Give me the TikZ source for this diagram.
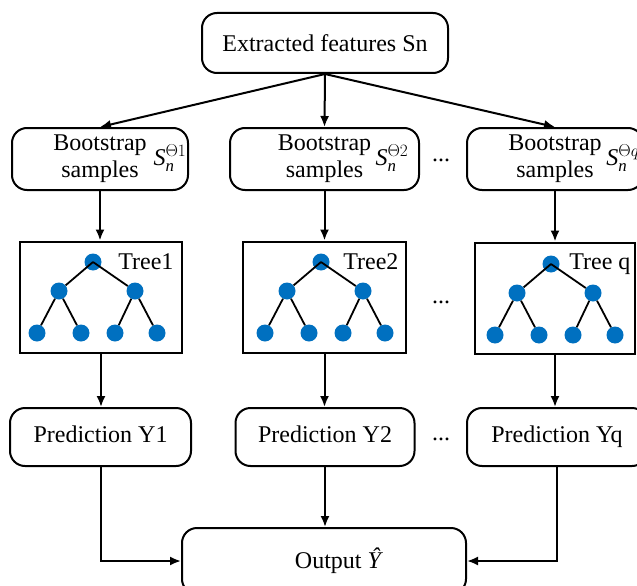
\documentclass[tikz,border=0pt]{standalone}
\usepackage{amsmath}
\usepackage{fontspec}
\setmainfont{Liberation Serif}
\usetikzlibrary{arrows.meta}
\definecolor{treeblue}{RGB}{0,112,192}
\tikzset{
  rbox/.style={draw,line width=2pt,rounded corners=15pt,inner sep=0pt,align=center},
  pbox/.style={rbox,text height=16pt,text depth=5pt,minimum height=58pt},
  tbox/.style={draw,line width=2pt,inner sep=0pt,minimum height=111pt},
  leaf/.style={circle,fill=treeblue,inner sep=0pt,minimum size=17pt},
  branch/.style={line width=1.8pt},
  arr/.style={-{Latex[length=11pt,width=9pt]},line width=2pt}
}
\begin{document}
\begin{tikzpicture}[x=1pt,y=-1pt,font=\fontsize{24}{27}\selectfont]
\useasboundingbox (0,0) rectangle (637,586);

% top
\node[rbox,minimum width=246pt,minimum height=60pt] (feat) at (325,43) {Extracted features Sn};

% bootstrap samples
\node[rbox,minimum width=176pt,minimum height=62pt] (boot1) at (100,159) {Bootstrap\\samples};
\node[rbox,minimum width=189pt,minimum height=62pt] (boot2) at (324.5,159) {Bootstrap\\samples};
\node[rbox,minimum width=176pt,minimum height=62pt] (boot3) at (555,159) {Bootstrap\\samples};
\node (s1) at (170,158) {$\textit{S}_{\textit{n}}^{\Theta1}$};
\node (s2) at (392,158) {$\textit{S}_{\textit{n}}^{\Theta2}$};
\node (s3) at (623,158) {$\textit{S}_{\textit{n}}^{\Theta q}$};
\node (dots1) at (441,160) {...};

% trees
\node[tbox,minimum width=162pt] (tree1) at (101,297) {};
\node[tbox,minimum width=163pt] (tree2) at (324.5,297) {};
\node[tbox,minimum width=160pt] (tree3) at (555,298) {};
\node[anchor=base east] (lab1) at (177,269) {Tree1};
\node[anchor=base east] (lab2) at (402,269) {Tree2};
\node[anchor=base east] (lab3) at (634,269) {Tree q};
\node (dots2) at (441,302) {...};
\foreach \i/\c/\d in {1/97/0, 2/325/0, 3/555/2}{
  \node[leaf] (t\i-r) at (\c-4,262+\d) {};
  \node[leaf] (t\i-a) at (\c-38,291+\d) {};
  \node[leaf] (t\i-b) at (\c+38,291+\d) {};
  \node[leaf] (t\i-aa) at (\c-60,333+\d) {};
  \node[leaf] (t\i-ab) at (\c-16,333+\d) {};
  \node[leaf] (t\i-ba) at (\c+18,333+\d) {};
  \node[leaf] (t\i-bb) at (\c+60,333+\d) {};
  \draw[branch] (t\i-r.center) -- (t\i-a) (t\i-r.center) -- (t\i-b)
    (t\i-a) -- (t\i-aa) (t\i-a) -- (t\i-ab)
    (t\i-b) -- (t\i-ba) (t\i-b) -- (t\i-bb);
}

% predictions
\node[pbox,minimum width=181pt] (pred1) at (100.5,437) {Prediction Y1};
\node[pbox,minimum width=179pt] (pred2) at (325,437) {Prediction Y2};
\node[pbox,minimum width=180pt] (pred3) at (557,437) {Prediction Yq};
\node (dots3) at (441,439) {...};

% output
\node[rbox,minimum width=284pt,minimum height=66pt] (out) at (324,561) {\hspace{30pt}Output \textit{Ŷ}};

% arrows
\draw[arr] (feat.south) -- (boot1.north);
\draw[arr] (feat.south) -- (boot2.north);
\draw[arr] (feat.south) -- (boot3.north);
\draw[arr] (boot1.south) -- (boot1.south |- tree1.north);
\draw[arr] (boot2.south) -- (boot2.south |- tree2.north);
\draw[arr] (boot3.south) -- (boot3.south |- tree3.north);
\draw[arr] (tree1.south) -- (tree1.south |- pred1.north);
\draw[arr] (tree2.south) -- (tree2.south |- pred2.north);
\draw[arr] (tree3.south) -- (tree3.south |- pred3.north);
\draw[arr] (pred1.south) |- (out.west);
\draw[arr] (pred2.south) -- (pred2.south |- out.north);
\draw[arr] (pred3.south) |- (out.east);

\end{tikzpicture}
\end{document}
